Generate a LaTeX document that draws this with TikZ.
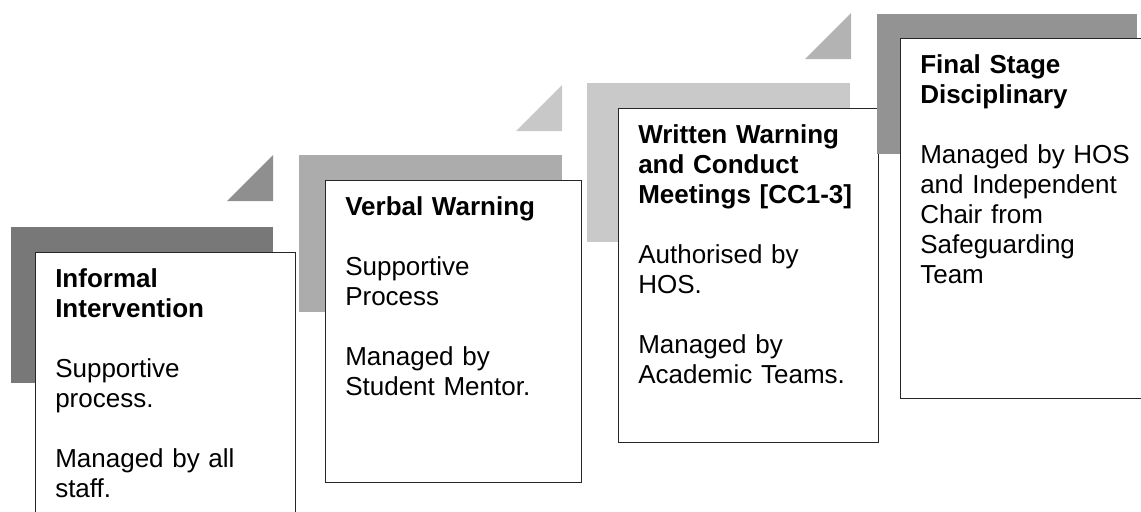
\documentclass[tikz,border=0pt]{standalone}
\usepackage{fontspec}
\setmainfont{Liberation Sans}
\usepackage{tikz}
\usetikzlibrary{positioning}
\hyphenpenalty=10000
\exhyphenpenalty=10000
\definecolor{barA}{HTML}{787878}
\definecolor{triA}{HTML}{8F8F8F}
\definecolor{barB}{HTML}{ACACAC}
\definecolor{triB}{HTML}{C8C8C8}
\definecolor{barC}{HTML}{C9C9C9}
\definecolor{triC}{HTML}{B3B3B3}
\definecolor{barD}{HTML}{939393}
\tikzset{
    stage/.style={draw=black!85,line width=0.7pt,fill=white,anchor=north west,
        minimum width=195pt,inner sep=0pt},
    stagetext/.style={inner sep=0pt,text width=165pt,align=left,
        font=\fontsize{19.5}{22.5}\selectfont},
    gap/.style={below right=10.5pt and 15pt of #1}
}

\begin{document}
\begin{tikzpicture}[x=0.75pt,y=-0.75pt]
    \clip (0,0) rectangle (1141,511);
    % step 1
    \fill[barA] (11,227) rectangle (273,383);
    \fill[triA] (227,201) -- (273,201) -- (273,155) -- cycle;
    \node[stage,minimum height=225pt] (box1) at (35,252) {};
    \node[stagetext,gap=box1.north west] (txt1)
        {\strut\textbf{Informal Intervention}\\[22.5pt]Supportive process.\\[22.5pt]Managed by all staff.};
    % step 2
    \fill[barB] (299,155) rectangle (562,312);
    \fill[triB] (516,131) -- (562,131) -- (562,85) -- cycle;
    \node[stage,minimum height=226.5pt,minimum width=192pt] (box2) at (325,180) {};
    \node[stagetext,gap=box2.north west] (txt2)
        {\strut\textbf{Verbal Warning}\\[22.5pt]Supportive Process\\[22.5pt]Managed by Student Mentor.};
    % step 3
    \fill[barC] (587,83) rectangle (850,242);
    \fill[triC] (805,59) -- (851,59) -- (851,13) -- cycle;
    \node[stage,minimum height=250.5pt] (box3) at (618,108) {};
    \node[stagetext,gap=box3.north west] (txt3)
        {\strut\textbf{Written Warning and Conduct Meetings [CC1-3]}\\[22.5pt]Authorised by HOS.\\[22.5pt]Managed by Academic Teams.};
    % step 4
    \fill[barD] (877,14) rectangle (1137,154);
    \node[stage,minimum height=270pt] (box4) at (900,38) {};
    \node[stagetext,gap=box4.north west] (txt4)
        {\strut\textbf{Final Stage Disciplinary}\\[22.5pt]Managed by HOS and Independent Chair from Safeguarding Team};
\end{tikzpicture}
\end{document}
